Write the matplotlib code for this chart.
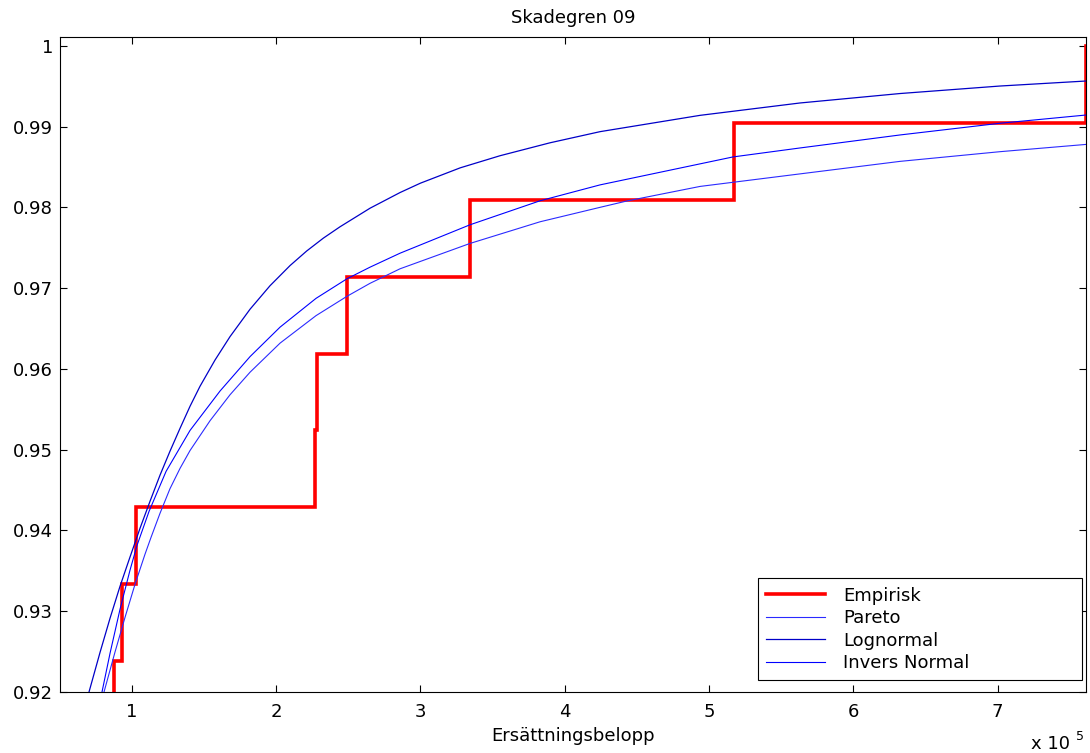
import numpy as np
import matplotlib
matplotlib.use("Agg")
import matplotlib.pyplot as plt

plt.rcParams['font.family'] = ['DejaVu Sans']

# empirical data (top of sample, n = 105), x in units of 1e5
n_total = 105
emp_x = [0.879, 0.935, 1.032, 2.270, 2.282, 2.490, 3.344, 5.173, 7.612]
emp_rank = [97, 98, 99, 100, 101, 102, 103, 104, 105]

# fitted CDFs
pareto_x = [0.808, 0.884, 0.954, 1.023, 1.092, 1.134, 1.196, 1.265, 1.335, 1.404,
            1.543, 1.681, 1.820, 2.028, 2.277, 2.492, 2.651, 2.859, 3.344, 3.829,
            4.245, 4.432, 4.938, 5.630, 6.323, 7.016, 7.612]
pareto_y = [0.92000, 0.92494, 0.92927, 0.93335, 0.93706, 0.93916, 0.94213, 0.94517,
            0.94770, 0.94990, 0.95360, 0.95680, 0.95960, 0.96320, 0.96660, 0.96900,
            0.97060, 0.97240, 0.97554, 0.97822, 0.98001, 0.98080, 0.98260, 0.98415,
            0.98570, 0.98690, 0.98780]

lognorm_x = [0.704, 0.781, 0.850, 0.919, 0.988, 1.058, 1.127, 1.196, 1.265, 1.335,
             1.404, 1.473, 1.577, 1.681, 1.820, 1.958, 2.097, 2.212, 2.328, 2.443,
             2.651, 2.859, 3.000, 3.276, 3.552, 3.898, 4.245, 4.938, 5.630, 6.323,
             7.016, 7.612]
lognorm_y = [0.92000, 0.92494, 0.92915, 0.93310, 0.93671, 0.94030, 0.94363, 0.94685,
             0.94981, 0.95266, 0.95538, 0.95785, 0.96110, 0.96400, 0.96740, 0.97030,
             0.97280, 0.97460, 0.97620, 0.97760, 0.97990, 0.98184, 0.98300, 0.98490,
             0.98640, 0.98800, 0.98938, 0.99140, 0.99293, 0.99410, 0.99503, 0.99565]

invnorm_x = [0.794, 0.850, 0.919, 0.988, 1.037, 1.120, 1.238, 1.404, 1.612, 1.820,
             2.028, 2.277, 2.492, 2.651, 2.859, 3.344, 3.829, 4.245, 5.166, 5.630,
             6.323, 7.016, 7.612]
invnorm_y = [0.92000, 0.92482, 0.93026, 0.93508, 0.93817, 0.94237, 0.94732, 0.95239,
             0.95727, 0.96153, 0.96518, 0.96874, 0.97117, 0.97260, 0.97433, 0.97785,
             0.98082, 0.98279, 0.98625, 0.98736, 0.98897, 0.99042, 0.99144]

# stair line for the empirical cdf
ex = np.repeat(emp_x, 2)
ey = np.repeat(np.array(emp_rank) / n_total, 2)
ey = np.concatenate([[(emp_rank[0] - 1) / n_total], ey[:-1]])

fig = plt.figure(figsize=(10.9, 7.53), dpi=100)
ax = fig.add_axes([60 / 1090, 1 - 692 / 753, 1026 / 1090, 655 / 753])

ax.plot(ex, ey, color='#ff0000', lw=2.6, label='Empirisk', solid_joinstyle='miter')
ax.plot(pareto_x, pareto_y, color='#2a2aff', lw=0.8, label='Pareto')
ax.plot(lognorm_x, lognorm_y, color='#0000c8', lw=0.9, label='Lognormal')
ax.plot(invnorm_x, invnorm_y, color='#0000ff', lw=0.8, label='Invers Normal')

ax.set_xlim(0.503, 7.612)
ax.set_ylim(0.92, 1.0011)
ax.set_xticks(range(1, 8))
ax.set_yticks([0.92, 0.93, 0.94, 0.95, 0.96, 0.97, 0.98, 0.99, 1.0])
ax.set_yticklabels(['0.92', '0.93', '0.94', '0.95', '0.96', '0.97', '0.98', '0.99', '1'])
ax.tick_params(direction='in', length=5, width=0.8, labelsize=13, top=True, right=True)
ax.tick_params(axis='x', pad=8)
ax.tick_params(axis='y', pad=5)
for s in ax.spines.values():
    s.set_linewidth(0.8)

ax.set_title('Skadegren 09', fontsize=13, pad=10)
ax.set_xlabel('Ersättningsbelopp', fontsize=13, labelpad=4)

fig.text(1031 / 1090, 1 - 749 / 753, 'x 10', fontsize=13, ha='left', va='baseline')
fig.text(1076 / 1090, 1 - 740 / 753, '5', fontsize=9, ha='left', va='baseline')

leg = ax.legend(loc='lower left', bbox_to_anchor=(0.680, 0.018, 0.316, 0.155),
                mode='expand', borderaxespad=0, fancybox=False, edgecolor='black',
                framealpha=1, fontsize=13, handlelength=3.3, handletextpad=1.0,
                labelspacing=0.25, borderpad=0.45)
leg.get_frame().set_linewidth(0.8)

fig.savefig('out.png', dpi=100)
